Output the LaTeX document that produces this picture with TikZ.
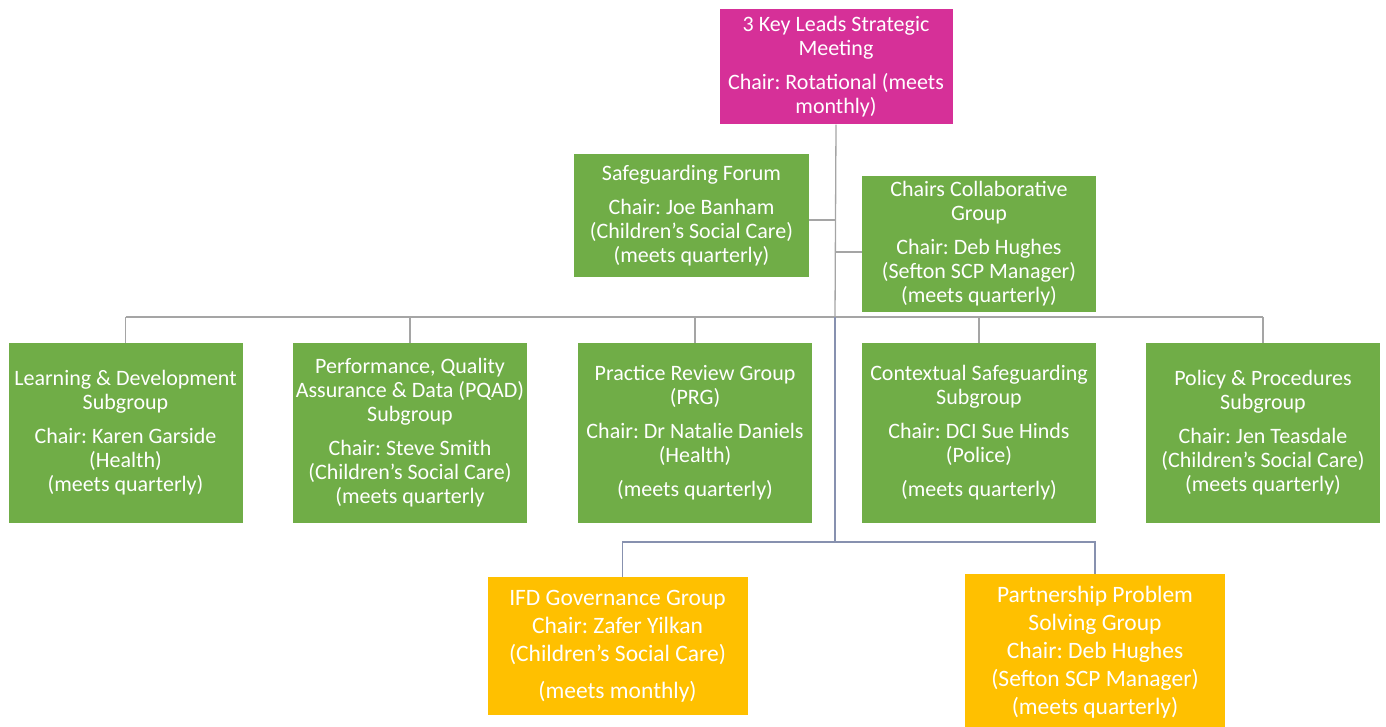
\documentclass[tikz,border=0pt]{standalone}
\usepackage{fontspec}
\setmainfont{Carlito}
\usepackage{tikz}
\frenchspacing

\definecolor{keypink}{RGB}{214,48,152}
\definecolor{subgreen}{RGB}{112,173,71}
\definecolor{groupgold}{RGB}{255,192,0}
\definecolor{linkgray}{RGB}{165,165,165}
\definecolor{linkblue}{RGB}{135,145,175}

\begin{document}
\begin{tikzpicture}[x=1pt,y=-1pt,
    box/.style={text=white,align=center,inner sep=2pt,font=\fontsize{22}{24}\selectfont},
    pinkbox/.style={box,fill=keypink},
    greenbox/.style={box,fill=subgreen,minimum width=234,minimum height=180},
    goldbox/.style={box,fill=groupgold,minimum width=260,font=\fontsize{23.5}{28}\selectfont},
    link/.style={linkgray,line width=1.3pt},
    lowlink/.style={linkblue,line width=1.3pt}]
  \useasboundingbox (0,0) rectangle (1386,727);

  % Strategic meeting
  \node[pinkbox,minimum width=233,minimum height=115] (keyleads) at (836,67)
    {3 Key Leads Strategic\\Meeting\\[10pt]Chair: Rotational (meets\\monthly)};

  % Side groups
  \node[greenbox,minimum width=235,minimum height=123] (forum) at (691.5,216)
    {Safeguarding Forum\\[10pt]Chair: Joe Banham\\(Children’s Social Care)\\(meets quarterly)};
  \node[greenbox,minimum width=234,minimum height=136] (chairs) at (979,244)
    {Chairs Collaborative\\Group\\[10pt]Chair: Deb Hughes\\(Sefton SCP Manager)\\(meets quarterly)};

  % Subgroups
  \node[greenbox] (learning) at (125.5,433)
    {Learning \& Development\\Subgroup\\[10pt]Chair: Karen Garside\\(Health)\\(meets quarterly)};
  \node[greenbox] (pqad) at (410,433)
    {Performance, Quality\\Assurance \& Data (PQAD)\\Subgroup\\[10pt]Chair: Steve Smith\\(Children’s Social Care)\\(meets quarterly};
  \node[greenbox] (prg) at (695,433)
    {Practice Review Group\\(PRG)\\[10pt]Chair: Dr Natalie Daniels\\(Health)\\[10pt](meets quarterly)};
  \node[greenbox] (contextual) at (979,433)
    {Contextual Safeguarding\\Subgroup\\[10pt]Chair: DCI Sue Hinds\\(Police)\\[10pt](meets quarterly)};
  \node[greenbox] (policy) at (1263,433)
    {Policy \& Procedures\\Subgroup\\[10pt]Chair: Jen Teasdale\\(Children’s Social Care)\\(meets quarterly)};

  % Other groups
  \node[goldbox,minimum height=138] (ifd) at (617.5,646)
    {IFD Governance Group\\Chair: Zafer Yilkan\\(Children’s Social Care)\\[9pt](meets monthly)};
  \node[goldbox,minimum height=156] (problem) at (1095,652)
    {Partnership Problem\\Solving Group\\Chair: Deb Hughes\\(Sefton SCP Manager)\\(meets quarterly)};

  % Connectors
  \coordinate (bus) at (835,317);
  \coordinate (lowbus) at (835,542);
  \coordinate (forumlink) at ([yshift=-4pt]forum.east);
  \coordinate (chairslink) at ([yshift=-8pt]chairs.west);
  \draw[link] (keyleads.south) -- (bus);
  \draw[link] (forumlink) -- (keyleads.south |- forumlink);
  \draw[link] (chairslink) -- (keyleads.south |- chairslink);
  \draw[link] (learning.north |- bus) -- (policy.north |- bus);
  \foreach \g in {learning,pqad,prg,contextual,policy}
    \draw[link] (\g.north) -- (\g.north |- bus);

  \draw[lowlink] (bus) -- (lowbus);
  \draw[lowlink] ([xshift=5pt]ifd.north) |- (lowbus) -| (problem.north);
\end{tikzpicture}
\end{document}
